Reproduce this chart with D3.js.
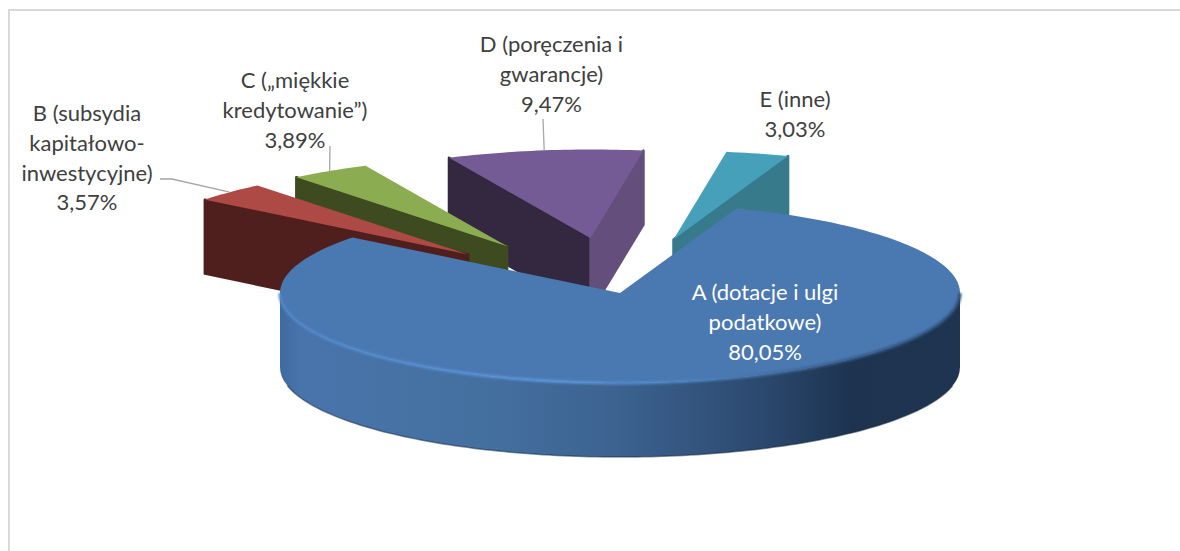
<!DOCTYPE html>
<html>
<head>
<meta charset="utf-8">
<script src="https://cdn.jsdelivr.net/npm/d3@7"></script>
<style>
  html, body { margin: 0; padding: 0; background: #fff; overflow: hidden; }
</style>
</head>
<body>
<div id="chart"></div>
<script>
const categories = ["A", "B", "C", "D", "E"];
const values = [80.05, 3.57, 3.89, 9.47, 3.03];
const nameLines = [
  ["A (dotacje i ulgi", "podatkowe)"],
  ["B (subsydia", "kapitałowo-", "inwestycyjne)"],
  ["C („miękkie", "kredytowanie”)"],
  ["D (poręczenia i", "gwarancje)"],
  ["E (inne)"]
];
const topColors = ["#4a78b1", "#ad4a46", "#8cac52", "#755b95", "#46a0b9"];
const leftWallColors = [null, "#4f1f1d", "#3e4b20", "#33283f", null];
const rightWallColors = [null, null, null, "#644f7c", "#377a8c"];

const width = 1180, height = 551;
const cx = 620, cy = 293, rx = 340, tilt = 90 / 340, depth = 74, explode = 213, explodedR = 335;

// label anchor (centre x, first line y) and leader start, by category
const labelPos = { A: [765, 300], B: [87, 121], C: [295, 88], D: [551.5, 52], E: [795, 107] };
const leaderStart = { B: [[160, 179], [172, 179]], C: [[330, 146]], D: [[543, 119]] };
const lineHeight = 29.8;

const line = d3.line();

const svg = d3.select("#chart").append("svg")
  .attr("width", width)
  .attr("height", height)
  .style("display", "block");

// chart frame, only top and left fall inside the crop
svg.append("path")
  .attr("d", line([[9, height], [9, 10], [width, 10]]))
  .attr("fill", "none").attr("stroke", "#d9d9d9").attr("stroke-width", 2);

const defs = svg.append("defs");
const sideGrad = defs.append("linearGradient")
  .attr("id", "sideGrad")
  .attr("gradientUnits", "userSpaceOnUse")
  .attr("x1", cx - rx).attr("x2", cx + rx).attr("y1", 0).attr("y2", 0);
[[0, "#3f6a9f"], [0.03, "#4874ac"], [0.3, "#44709f"], [0.5, "#3c6290"], [0.7, "#2c4a70"], [0.84, "#1d3350"], [1, "#1e3450"]]
  .forEach(d => sideGrad.append("stop").attr("offset", d[0]).attr("stop-color", d[1]));
const bevelGrad = defs.append("linearGradient")
  .attr("id", "bevelGrad")
  .attr("gradientUnits", "userSpaceOnUse")
  .attr("x1", cx - rx).attr("x2", cx + rx).attr("y1", 0).attr("y2", 0);
[[0, "#4f86c6"], [0.4, "#5b95da"], [0.6, "#4f82bd"], [0.8, "#39608f"], [1, "#2b4a70"]]
  .forEach(d => bevelGrad.append("stop").attr("offset", d[0]).attr("stop-color", d[1]));
defs.append("filter").attr("id", "soft")
  .append("feGaussianBlur").attr("stdDeviation", 1.2);

const pie = d3.pie().sort(null)
  .startAngle(20 * Math.PI / 180)
  .endAngle(380 * Math.PI / 180);
const slices = pie(values);

// angle is measured clockwise from the top, like d3.pie
function point(angle, r, origin) {
  return [origin[0] + r * Math.sin(angle), origin[1] - r * Math.cos(angle) * tilt];
}
function arcPoints(a0, a1, r, origin) {
  const n = Math.max(2, Math.ceil(Math.abs(a1 - a0) / 0.02));
  return d3.range(n + 1).map(i => point(a0 + (a1 - a0) * i / n, r, origin));
}

function drawWall(g, a, b, color) {
  const pts = [a, b, [b[0], b[1] + depth], [a[0], a[1] + depth]];
  g.append("path")
    .attr("d", line(pts) + "Z")
    .attr("fill", color)
    .attr("stroke", color)
    .attr("stroke-width", 2.5)
    .attr("stroke-linejoin", "round");
}

// exploded slices, back to front, the big slice goes on top of them
const order = [4, 3, 2, 1];
const origins = {};
order.forEach(i => {
  const s = slices[i];
  const mid = (s.startAngle + s.endAngle) / 2;
  const origin = point(mid, explode, [cx, cy + 1]);
  origins[i] = origin;
  const g = svg.append("g").attr("class", "slice-" + categories[i]);
  const p0 = point(s.startAngle, explodedR, origin);
  const p1 = point(s.endAngle, explodedR, origin);
  if (leftWallColors[i]) drawWall(g, p0, origin, leftWallColors[i]);
  if (rightWallColors[i]) drawWall(g, origin, p1, rightWallColors[i]);
  g.append("path")
    .attr("d", line([origin].concat(arcPoints(s.startAngle, s.endAngle, explodedR, origin))) + "Z")
    .attr("fill", topColors[i]);
});

// big slice: side with rounded lower corners, top and the soft highlight on the front edge
const big = slices[0];
const front = arcPoints(Math.PI / 2, Math.PI * 1.5, rx, [cx, cy]);
const trim = 12 * Math.PI / 180;
const lower = arcPoints(Math.PI / 2 + trim, Math.PI * 1.5 - trim, rx, [cx, cy + depth]);
const leftEnd = front[front.length - 1], rightEnd = front[0];
const lowerLeft = lower[lower.length - 1], lowerRight = lower[0];
const side = d3.path();
front.forEach((p, i) => i ? side.lineTo(p[0], p[1]) : side.moveTo(p[0], p[1]));
side.lineTo(leftEnd[0], leftEnd[1] + depth);
side.quadraticCurveTo(leftEnd[0], leftEnd[1] + depth + 10, lowerLeft[0], lowerLeft[1]);
lower.slice().reverse().forEach(p => side.lineTo(p[0], p[1]));
side.quadraticCurveTo(rightEnd[0], rightEnd[1] + depth + 10, rightEnd[0], rightEnd[1] + depth);
side.closePath();

const gA = svg.append("g").attr("class", "slice-A");
gA.append("path")
  .attr("d", side.toString())
  .attr("fill", "url(#sideGrad)");
gA.append("path")
  .attr("d", line(lower))
  .attr("fill", "none")
  .attr("stroke", "#16273e")
  .attr("stroke-opacity", 0.5)
  .attr("stroke-width", 1.5);
gA.append("path")
  .attr("d", line([[cx, cy]].concat(arcPoints(big.startAngle, big.endAngle, rx, [cx, cy]))) + "Z")
  .attr("fill", topColors[0]);
gA.append("path")
  .attr("d", line(front))
  .attr("fill", "none")
  .attr("stroke", "url(#bevelGrad)")
  .attr("stroke-width", 3)
  .attr("filter", "url(#soft)");

// leaders
["B", "C", "D"].forEach(c => {
  const i = categories.indexOf(c);
  const s = slices[i];
  const mid = (s.startAngle + s.endAngle) / 2;
  svg.append("path")
    .attr("d", line(leaderStart[c].concat([point(mid, explodedR, origins[i])])))
    .attr("fill", "none")
    .attr("stroke", "#a6a6a6")
    .attr("stroke-width", 1.3);
});

// labels
categories.forEach((c, i) => {
  const text = svg.append("text")
    .attr("text-anchor", "middle")
    .attr("font-family", "Lato, sans-serif")
    .attr("font-size", 22)
    .attr("fill", i === 0 ? "#ffffff" : "#404040");
  const lines = nameLines[i].concat([values[i].toFixed(2).replace(".", ",") + "%"]);
  lines.forEach((t, j) => {
    text.append("tspan")
      .attr("x", labelPos[c][0])
      .attr("y", labelPos[c][1] + j * lineHeight)
      .text(t);
  });
});
</script>
</body>
</html>
